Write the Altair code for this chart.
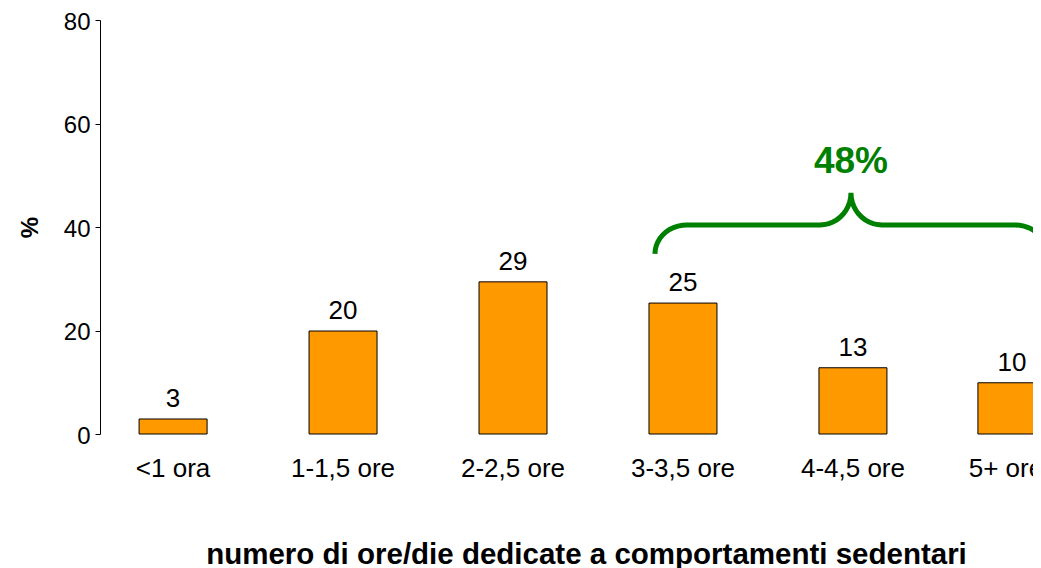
import altair as alt
import pandas as pd
import numpy as np

# ---------------- data ----------------
categories = ["<1 ora", "1-1,5 ore", "2-2,5 ore", "3-3,5 ore", "4-4,5 ore", "5+ ore"]
values = [2.9, 19.9, 29.4, 25.3, 12.8, 9.9]
value_labels = ["3", "20", "29", "25", "13", "10"]
y_ticks = [0, 20, 40, 60, 80]

group_label = "48%"
# brace geometry in data units (x = category index, y = %)
brace_x_left = 2.835
brace_x_peak = 3.988
brace_x_right = 5.141
brace_y_end = 34.8
brace_y_bar = 40.4
brace_y_peak = 46.6
brace_r_outer = 0.188
brace_r_inner = 0.182
group_label_y = 50.4

x_title = "numero di ore/die dedicate a comportamenti sedentari"
y_title = "%"

FONT = "Liberation Sans"
ORANGE = "#FF9900"
GREEN = "#008000"
LAST = categories[-1]

bars_df = pd.DataFrame({"cat": categories, "val": values, "lab": value_labels})

# build brace path
t = np.linspace(0, np.pi / 2, 12)
pts = []
cx = brace_x_left + brace_r_outer
pts += list(zip(cx - brace_r_outer * np.cos(t), brace_y_end + (brace_y_bar - brace_y_end) * np.sin(t)))
cx = brace_x_peak - brace_r_inner
pts += list(zip(cx + brace_r_inner * np.sin(t), brace_y_peak - (brace_y_peak - brace_y_bar) * np.cos(t)))
cx = brace_x_peak + brace_r_inner
pts += list(zip(cx - brace_r_inner * np.cos(t), brace_y_peak - (brace_y_peak - brace_y_bar) * np.sin(t)))
cx = brace_x_right - brace_r_outer
pts += list(zip(cx + brace_r_outer * np.sin(t), brace_y_end + (brace_y_bar - brace_y_end) * np.cos(t)))
brace_df = pd.DataFrame({"bx": [p[0] for p in pts], "by": [p[1] for p in pts], "o": list(range(len(pts)))})
label_df = pd.DataFrame({"bx": [brace_x_peak], "by": [group_label_y], "t": [group_label]})

RANGE = [0, 996]
RANGE_LAST = [-11, 985]  # last category sits slightly closer in the reference

label_style = dict(
    labelAngle=0,
    domain=False,
    ticks=False,
    tickSize=0,
    labelFont=FONT,
    labelFontSize=26,
    labelColor="black",
    labelPadding=21,
    orient="bottom",
)


def band(rng):
    return alt.Scale(type="band", domain=categories, range=rng, paddingInner=0.6, paddingOuter=0.23)


x_main = alt.X(
    "cat:N",
    sort=categories,
    scale=band(RANGE),
    axis=alt.Axis(
        title=x_title,
        values=categories[:-1],
        titleFont=FONT,
        titleFontSize=29.5,
        titleFontWeight="bold",
        titleColor="black",
        titlePadding=59,
        titleX=486,
        **label_style,
    ),
)
x_main_noaxis = alt.X("cat:N", sort=categories, scale=band(RANGE), axis=None)
x_last = alt.X(
    "cat:N",
    sort=categories,
    scale=band(RANGE_LAST),
    axis=alt.Axis(title=None, values=[LAST], labelOffset=-6, **label_style),
)
x_last_noaxis = alt.X("cat:N", sort=categories, scale=band(RANGE_LAST), axis=None)

yscale = alt.Scale(domain=[0, 80], nice=False)
yaxis = alt.Axis(
    title=y_title,
    values=y_ticks,
    grid=False,
    domainColor="black",
    tickColor="black",
    tickSize=5,
    labelFont=FONT,
    labelFontSize=24,
    labelColor="black",
    labelPadding=5,
    labelOffset=2,
    titleFont=FONT,
    titleFontSize=24,
    titleFontWeight="bold",
    titleColor="black",
    titlePadding=21,
)

base = alt.Chart(bars_df)
bar_mark = dict(color=ORANGE, stroke="black", strokeWidth=1)
text_mark = dict(font=FONT, fontSize=26, color="black", baseline="alphabetic", dy=-12)

bars_a = base.transform_filter(f"datum.cat != '{LAST}'").mark_bar(**bar_mark).encode(
    x=x_main, y=alt.Y("val:Q", scale=yscale, axis=yaxis)
)
texts_a = base.transform_filter(f"datum.cat != '{LAST}'").mark_text(**text_mark).encode(
    x=x_main_noaxis, y=alt.Y("val:Q"), text="lab:N"
)
bars_b = base.transform_filter(f"datum.cat == '{LAST}'").mark_bar(**bar_mark).encode(
    x=x_last, y=alt.Y("val:Q")
)
texts_b = base.transform_filter(f"datum.cat == '{LAST}'").mark_text(**text_mark).encode(
    x=x_last_noaxis, y=alt.Y("val:Q"), text="lab:N"
)

bx = alt.X("bx:Q", scale=alt.Scale(domain=[-73 / 170, 5 + 73 / 170], range=RANGE, nice=False, zero=False), axis=None)
brace = alt.Chart(brace_df).mark_line(color=GREEN, strokeWidth=5).encode(
    x=bx, y=alt.Y("by:Q"), order="o:Q"
)
glabel = alt.Chart(label_df).mark_text(
    font=FONT, fontSize=37, fontWeight="bold", color=GREEN, baseline="alphabetic"
).encode(x=bx, y=alt.Y("by:Q"), text="t:N")

chart = (
    alt.layer(bars_a, texts_a, bars_b, texts_b, brace, glabel)
    .resolve_scale(x="independent")
    .properties(
        width=933,
        height=414,
        autosize=alt.AutoSizeParams(type="none"),
        padding={"left": 92, "top": 12, "right": 0, "bottom": 140},
    )
    .configure_view(stroke=None)
)

chart.save("out.html", embed_options={"renderer": "svg", "actions": False})
